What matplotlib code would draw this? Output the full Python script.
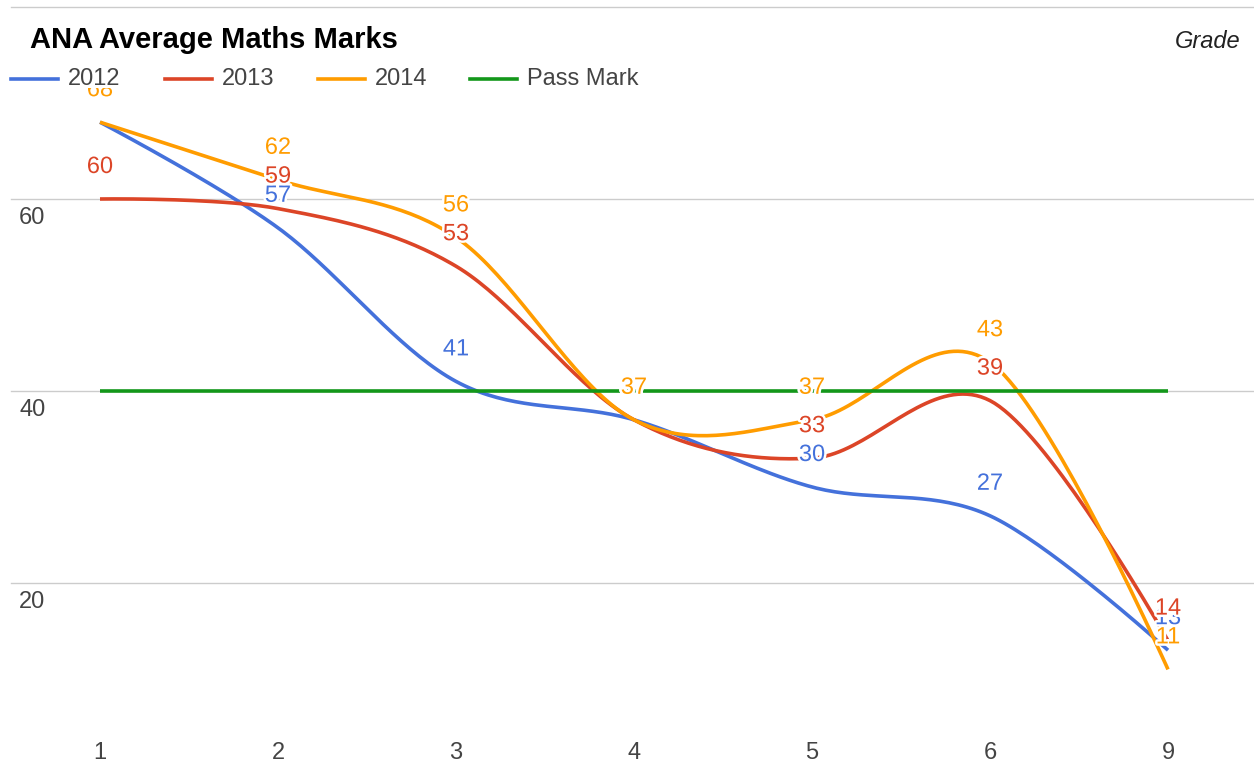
import matplotlib
matplotlib.use("Agg")
import matplotlib.pyplot as plt
import matplotlib.patheffects as pe
from matplotlib.patches import Rectangle
import numpy as np

plt.rcParams['font.family'] = ['Liberation Sans', 'DejaVu Sans']

# ---- data ----
grades = ["1", "2", "3", "4", "5", "6", "9"]
marks_2012 = [68, 57, 41, 37, 30, 27, 13]
marks_2013 = [60, 59, 53, 37, 33, 39, 14]
marks_2014 = [68, 62, 56, 37, 37, 43, 11]
pass_mark = [40, 40, 40, 40, 40, 40, 40]
series_names = ["2012", "2013", "2014", "Pass Mark"]
y_ticks = [20, 40, 60, 80]
title = "ANA Average Maths Marks"
axis_title = "Grade"

colors = ["#4471DB", "#DC4527", "#FF9C00", "#13971A"]
TEXT = "#444444"
FS = 17

W, H = 1254, 770
fig = plt.figure(figsize=(W / 100, H / 100), dpi=100)
# axes: x pixels 11..1257, y pixels 7..727
ax = fig.add_axes([11 / W, (H - 727) / H, 1246 / W, 720 / H])
ax.set_xlim(-0.5, 6.5)
ax.set_ylim(5, 80)
for s in ax.spines.values():
    s.set_visible(False)
ax.set_yticks([])
x = np.arange(len(grades))
ax.set_xticks(x)
ax.set_xticklabels(grades, fontsize=FS, color=TEXT)
ax.tick_params(axis='x', length=0, pad=10.5)

# gridlines
for v in y_ticks:
    ax.axhline(v, color="#cccccc", lw=1.0, clip_on=False, zorder=0)
    if v < 80:
        ax.annotate(str(v), xy=(0, v), xycoords=('axes fraction', 'data'),
                    xytext=(8, -19), textcoords='offset pixels',
                    ha='left', va='center', fontsize=FS, color=TEXT)


def smooth(xs, ys, n=40):
    xs = np.asarray(xs, float)
    ys = np.asarray(ys, float)
    m = len(xs)
    tx = np.zeros(m)
    ty = np.zeros(m)
    for i in range(1, m - 1):
        tx[i] = (xs[i + 1] - xs[i - 1]) / 2
        ty[i] = (ys[i + 1] - ys[i - 1]) / 2
    outx, outy = [], []
    t = np.linspace(0, 1, n)
    for i in range(m - 1):
        p0 = np.array([xs[i], ys[i]])
        p3 = np.array([xs[i + 1], ys[i + 1]])
        c1 = p0 + np.array([tx[i], ty[i]]) / 3
        c2 = p3 - np.array([tx[i + 1], ty[i + 1]]) / 3
        b = ((1 - t) ** 3)[:, None] * p0 + (3 * t * (1 - t) ** 2)[:, None] * c1 \
            + (3 * t ** 2 * (1 - t))[:, None] * c2 + (t ** 3)[:, None] * p3
        outx.extend(b[:, 0])
        outy.extend(b[:, 1])
    return outx, outy


data = [marks_2012, marks_2013, marks_2014]
for vals, c in zip(data, colors[:3]):
    sx, sy = smooth(x, vals)
    ax.plot(sx, sy, color=c, lw=2.6, solid_capstyle='butt', zorder=2)
ax.plot(x, pass_mark, color=colors[3], lw=2.6, solid_capstyle='butt', zorder=2)

# data labels
halo = [pe.withStroke(linewidth=3.5, foreground='white')]
for vals, c in zip(data, colors[:3]):
    for xi, v in zip(x, vals):
        ax.annotate(str(v), xy=(xi, v), xytext=(0, 32), textcoords='offset pixels',
                    ha='center', va='center', fontsize=FS, color=c,
                    path_effects=halo, zorder=5)

# title and axis title
fig.text(30 / W, 1 - 40 / H, title, fontsize=21, fontweight='bold',
         color='#000000', ha='left', va='center')
fig.text(1240 / W, 1 - 41 / H, axis_title, fontsize=FS, style='italic',
         color='#222222', ha='right', va='center')

# legend (custom, Google-style)
fig.patches.append(Rectangle((0, 1 - 88 / H), 660 / W, 22 / H, transform=fig.transFigure,
                             facecolor='white', edgecolor='none', zorder=6))
leg_x = [11, 165, 318, 470]
ly = 1 - 79 / H
for lx, name, c in zip(leg_x, series_names, colors):
    fig.add_artist(plt.Line2D([lx / W, (lx + 47) / W], [ly, ly], color=c, lw=2.6,
                              transform=fig.transFigure, zorder=7))
    fig.text((lx + 57) / W, ly, name, fontsize=FS, color=TEXT, ha='left',
             va='center', zorder=8)

fig.savefig("out.png", dpi=100)
